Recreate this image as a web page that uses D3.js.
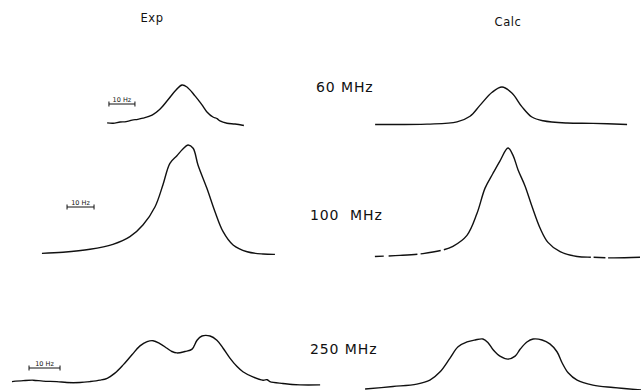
<!DOCTYPE html>
<html>
<head>
<meta charset="utf-8">
<script src="https://cdn.jsdelivr.net/npm/d3@7"></script>
<style>
  body { margin: 0; background: #fff; }
  svg text { font-family: "DejaVu Sans", sans-serif; fill: #111; white-space: pre; }
</style>
</head>
<body>
<div class="chart"></div>
<script>
// column and row labels
var columns = ["Exp", "Calc"];
var rowLabels = ["60 MHz", "100  MHz", "250 MHz"];
var barLabel = "10 Hz";

// traces: offset from line centre (Hz) and relative intensity (peak = 1)
var exp60Hz = [-28.8, -26.5, -23.8, -21.5, -19.2, -17, -15, -11.5, -8.5, -5.4, -2.3, 0, 1.9, 5, 7.7, 9.6, 11.9, 13.5, 14.6, 17.3, 20.4, 23.8];
var exp60I  = [0.03, 0.02, 0.05, 0.06, 0.10, 0.12, 0.15, 0.23, 0.38, 0.62, 0.87, 1.0, 0.95, 0.72, 0.49, 0.31, 0.18, 0.14, 0.08, 0.02, 0.0, -0.04];

var calc60Hz = [-48.8, -28.8, -17.3, -12.3, -8.5, -3.8, 0, 3.8, 7.7, 11.5, 15.8, 25, 35, 48.1];
var calc60I  = [0, 0.01, 0.07, 0.22, 0.51, 0.86, 1.0, 0.84, 0.47, 0.2, 0.1, 0.04, 0.03, 0];

var exp100Hz = [-54.1, -46.3, -36.3, -27.8, -21.5, -16.7, -12.2, -9.3, -6.7, -4.1, -1.9, 0, 1.9, 3.7, 7.0, 10.0, 13.0, 16.7, 21.9, 27.8, 32.2];
var exp100I  = [0.006, 0.016, 0.043, 0.089, 0.159, 0.266, 0.434, 0.633, 0.832, 0.902, 0.963, 1.0, 0.97, 0.817, 0.603, 0.388, 0.205, 0.083, 0.021, 0, -0.003];

var calc100Hz = [-49.3, -40, -31.5, -24.1, -20.4, -15.2, -11.5, -8.5, -5.6, -3.0, 0, 1.9, 3.7, 6.3, 8.9, 11.9, 14.8, 19.3, 25.6, 31.5, 38.9, 48.9];
var calc100I  = [0, 0.01, 0.027, 0.06, 0.094, 0.195, 0.396, 0.63, 0.765, 0.88, 1.0, 0.93, 0.8, 0.65, 0.46, 0.26, 0.13, 0.044, 0, -0.007, -0.013, -0.007];
// breaks in the calculated 100 MHz trace (Hz)
var calc100Gaps = [[-46, -44.2], [-33.6, -32.4], [-25, -23.8], [30.6, 31.6], [36, 37]];

var exp250Hz = [-54.2, -50.6, -47.4, -44.2, -39.7, -36.5, -32.3, -29.0, -25.8, -23.5, -21.0, -18.4, -15.5, -12.9, -10.6, -8.7, -6.5, -4.2, -2.6, -1.0, 1.6, 3.9, 5.5, 7.1, 9.7, 11.9, 13.9, 16.1, 18.4, 20.3, 23.5, 26.8, 28.1, 29.0, 33.2, 38.7, 45.2];
var exp250I  = [0.03, 0.05, 0.06, 0.04, 0.03, 0.01, 0.01, 0.03, 0.06, 0.1, 0.21, 0.38, 0.6, 0.79, 0.88, 0.9, 0.84, 0.74, 0.67, 0.64, 0.67, 0.72, 0.91, 1.0, 1.0, 0.91, 0.74, 0.53, 0.35, 0.24, 0.13, 0.06, 0.07, 0.03, -0.01, -0.04, -0.04];

var calc250Hz = [-46.1, -37.1, -29.4, -25.2, -21.9, -18.7, -16.1, -13.2, -10.6, -8.1, -6.5, -4.8, -2.6, 0, 2.3, 3.9, 6.1, 8.1, 11.0, 13.5, 15.8, 17.4, 19.4, 22.3, 27.4, 33.9, 42.9];
var calc250I  = [-0.02, 0.03, 0.08, 0.16, 0.33, 0.61, 0.84, 0.94, 0.98, 1.0, 0.93, 0.78, 0.65, 0.59, 0.65, 0.79, 0.94, 1.0, 0.98, 0.9, 0.74, 0.52, 0.31, 0.16, 0.06, 0.01, -0.04];

// scale bar position (Hz) for each experimental trace
var barStartHz = [-28.1, -44.8, -48.7];

var width = 641, height = 390;

var svg = d3.select(".chart").append("svg")
  .attr("width", width)
  .attr("height", height);

// light pen jitter for the noisier recorded spectra
var f = svg.append("defs").append("filter").attr("id", "wobble")
  .attr("x", "-5%").attr("y", "-20%").attr("width", "110%").attr("height", "140%");
f.append("feTurbulence").attr("type", "fractalNoise").attr("baseFrequency", 0.5)
  .attr("numOctaves", 1).attr("seed", 3).attr("result", "n");
f.append("feDisplacementMap").attr("in", "SourceGraphic").attr("in2", "n")
  .attr("scale", 1.1).attr("xChannelSelector", "R").attr("yChannelSelector", "G");

// panel layout: centre px, px per Hz, baseline and peak px
var panels = [
  { hz: exp60Hz,  it: exp60I,   cx: 182, k: 2.6, base: 124,   peak: 85,    exp: true, noisy: true,  row: 0 },
  { hz: calc60Hz, it: calc60I,  cx: 502, k: 2.6, base: 124.5, peak: 87,    exp: false, row: 0 },
  { hz: exp100Hz, it: exp100I,  cx: 188, k: 2.7, base: 254,   peak: 145,   exp: true, noisy: false, row: 1 },
  { hz: calc100Hz, it: calc100I, cx: 508, k: 2.7, base: 256.5, peak: 148, exp: false, row: 1, gaps: calc100Gaps },
  { hz: exp250Hz, it: exp250I,  cx: 180, k: 3.1, base: 383,   peak: 336,   exp: true, noisy: true,  row: 2 },
  { hz: calc250Hz, it: calc250I, cx: 508, k: 3.1, base: 388,  peak: 339,   exp: false, row: 2 }
];
var barY = [104, 207, 368];

svg.selectAll("text.col")
  .data(columns).enter()
  .append("text")
  .attr("class", "col")
  .attr("x", function (d, i) { return i === 0 ? 152 : 508; })
  .attr("y", function (d, i) { return i === 0 ? 22 : 26; })
  .attr("text-anchor", "middle")
  .attr("font-size", 11.5)
  .attr("letter-spacing", 0.6)
  .text(function (d) { return d; });

svg.selectAll("text.row")
  .data(rowLabels).enter()
  .append("text")
  .attr("class", "row")
  .attr("x", function (d, i) { return i === 0 ? 316 : 310; })
  .attr("y", function (d, i) { return [92, 220, 354][i]; })
  .attr("font-size", 14)
  .attr("letter-spacing", 0.9)
  .text(function (d) { return d; });

panels.forEach(function (p) {
  var x = d3.scaleLinear().domain([0, 10]).range([p.cx, p.cx + 10 * p.k]);
  var y = d3.scaleLinear().domain([0, 1]).range([p.base, p.peak]);
  var pts = p.hz.map(function (h, i) { return [h, p.it[i]]; });

  var line = d3.line()
    .curve(d3.curveCatmullRom.alpha(0.5))
    .x(function (d) { return x(d[0]); })
    .y(function (d) { return y(d[1]); });

  var path = svg.append("path")
    .datum(pts)
    .attr("d", line)
    .attr("fill", "none")
    .attr("stroke", "#111")
    .attr("stroke-width", 1.4)
    .attr("stroke-linejoin", "round");
  if (p.noisy) path.attr("filter", "url(#wobble)");

  if (p.gaps) {
    // turn gap positions into a dash pattern along the path
    var node = path.node(), total = node.getTotalLength();
    var lenAt = function (px) {
      var lo = 0, hi = total;
      for (var n = 0; n < 30; n++) {
        var mid = (lo + hi) / 2;
        if (node.getPointAtLength(mid).x < px) lo = mid; else hi = mid;
      }
      return lo;
    };
    var dash = [], pos = 0;
    p.gaps.forEach(function (g) {
      var a = lenAt(x(g[0])), b = lenAt(x(g[1]));
      dash.push(a - pos, b - a);
      pos = b;
    });
    dash.push(total - pos + 1, 0);
    path.attr("stroke-dasharray", dash.join(","));
  }

  if (p.exp) {
    var by = barY[p.row], b0 = barStartHz[p.row];
    var bar = svg.append("g").attr("stroke", "#111").attr("stroke-width", 1);
    bar.append("line").attr("x1", x(b0)).attr("x2", x(b0 + 10)).attr("y1", by).attr("y2", by);
    [b0, b0 + 10].forEach(function (h) {
      bar.append("line").attr("x1", x(h)).attr("x2", x(h)).attr("y1", by - 2.5).attr("y2", by + 2.5);
    });
    svg.append("text")
      .attr("x", x(b0 + 5))
      .attr("y", by - 2.5)
      .attr("text-anchor", "middle")
      .attr("font-size", 6.5)
      .text(barLabel);
  }
});
</script>
</body>
</html>
